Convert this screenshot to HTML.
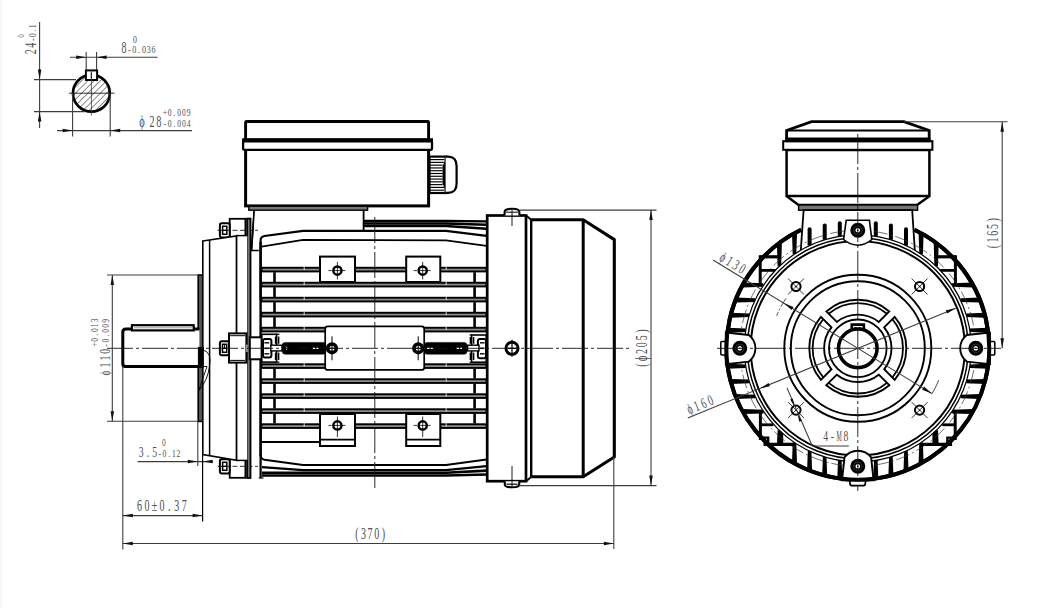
<!DOCTYPE html>
<html><head><meta charset="utf-8"><title>Motor drawing</title>
<style>html,body{margin:0;padding:0;background:#fff;}svg{display:block}</style></head>
<body><svg width="1061" height="608" viewBox="0 0 1061 608">
<rect width="1061" height="608" fill="#fff"/>
<rect x="0" y="0" width="1.2" height="608" fill="#f5f5f5"/><rect x="2.4" y="0" width="0.8" height="608" fill="#fbfbfb"/>
<defs><pattern id="hatch" width="4.4" height="4.4" patternUnits="userSpaceOnUse" patternTransform="rotate(45)"><line x1="0" y1="0" x2="0" y2="4.4" stroke="#000" stroke-width="0.9"/></pattern></defs>
<circle cx="91.40" cy="93.20" r="18.40" fill="url(#hatch)" stroke="#000" stroke-width="2.7" />
<rect x="85.90" y="70.40" width="11.20" height="9.60" rx="0" fill="#fff" stroke="#000" stroke-width="2.0" />
<line x1="91.40" y1="72.50" x2="91.40" y2="78.50" stroke="#000" stroke-width="1.2" />
<line x1="91.40" y1="70.00" x2="91.40" y2="115.50" stroke="#3c3c3c" stroke-width="0.8" />
<line x1="69.00" y1="93.20" x2="114.50" y2="93.20" stroke="#000" stroke-width="0.8" />
<line x1="39.60" y1="22.00" x2="39.60" y2="128.00" stroke="#3c3c3c" stroke-width="1.1" />
<line x1="34.00" y1="79.60" x2="76.00" y2="79.60" stroke="#3c3c3c" stroke-width="1.1" />
<line x1="34.00" y1="111.60" x2="85.00" y2="111.60" stroke="#3c3c3c" stroke-width="1.1" />
<polygon points="39.60,79.60 37.85,69.60 41.35,69.60" fill="#111"/>
<polygon points="39.60,111.60 41.35,121.60 37.85,121.60" fill="#111"/>
<g transform="translate(36.20,55.20) rotate(-90.00)" font-family="Liberation Serif" font-size="15.66" fill="#4d4f55" text-anchor="middle"><text transform="translate(3.35,0) scale(0.64,1)">2</text><text transform="translate(10.05,0) scale(0.64,1)">4</text></g>
<g transform="translate(36.20,41.80) rotate(-90.00)" font-family="Liberation Serif" font-size="10.4" fill="#4d4f55" text-anchor="middle"><text transform="translate(2.20,0) scale(0.76,1)">-</text><text transform="translate(6.60,0) scale(0.76,1)">0</text><text transform="translate(11.00,0) scale(0.76,1)">.</text><text transform="translate(15.40,0) scale(0.76,1)">1</text></g>
<g transform="translate(23.80,38.00) rotate(-90.00)" font-family="Liberation Serif" font-size="8.5" fill="#4d4f55" text-anchor="middle"><text transform="translate(2.20,0) scale(0.76,1)">0</text></g>
<line x1="70.00" y1="57.30" x2="157.50" y2="57.30" stroke="#3c3c3c" stroke-width="1.1" />
<line x1="86.20" y1="52.00" x2="86.20" y2="70.00" stroke="#3c3c3c" stroke-width="1.1" />
<line x1="96.60" y1="52.00" x2="96.60" y2="70.00" stroke="#3c3c3c" stroke-width="1.1" />
<polygon points="86.20,57.30 76.20,59.05 76.20,55.55" fill="#111"/>
<polygon points="96.60,57.30 106.60,55.55 106.60,59.05" fill="#111"/>
<g transform="translate(120.80,52.60)" font-family="Liberation Serif" font-size="15.66" fill="#4d4f55" text-anchor="middle"><text transform="translate(3.30,0) scale(0.64,1)">8</text></g>
<g transform="translate(127.00,53.00)" font-family="Liberation Serif" font-size="10.6" fill="#4d4f55" text-anchor="middle"><text transform="translate(2.42,0) scale(0.76,1)">-</text><text transform="translate(7.25,0) scale(0.76,1)">0</text><text transform="translate(12.08,0) scale(0.76,1)">.</text><text transform="translate(16.92,0) scale(0.76,1)">0</text><text transform="translate(21.75,0) scale(0.76,1)">3</text><text transform="translate(26.58,0) scale(0.76,1)">6</text></g>
<g transform="translate(132.40,42.60)" font-family="Liberation Serif" font-size="10.4" fill="#4d4f55" text-anchor="middle"><text transform="translate(2.50,0) scale(0.76,1)">0</text></g>
<line x1="57.00" y1="130.60" x2="192.00" y2="130.60" stroke="#3c3c3c" stroke-width="1.1" />
<line x1="72.60" y1="93.00" x2="72.60" y2="136.50" stroke="#3c3c3c" stroke-width="1.1" />
<line x1="110.20" y1="93.00" x2="110.20" y2="136.50" stroke="#3c3c3c" stroke-width="1.1" />
<polygon points="72.60,130.60 62.60,132.35 62.60,128.85" fill="#111"/>
<polygon points="110.20,130.60 120.20,128.85 120.20,132.35" fill="#111"/>
<g transform="translate(138.40,126.60)" font-family="Liberation Serif" font-size="16.2" fill="#4d4f55" text-anchor="middle"><text transform="translate(3.50,0) scale(0.64,1)">ϕ</text></g>
<g transform="translate(148.80,126.60)" font-family="Liberation Serif" font-size="15.98" fill="#4d4f55" text-anchor="middle"><text transform="translate(3.35,0) scale(0.64,1)">2</text><text transform="translate(10.05,0) scale(0.64,1)">8</text></g>
<g transform="translate(162.60,116.20)" font-family="Liberation Serif" font-size="10" fill="#4d4f55" text-anchor="middle"><text transform="translate(2.37,0) scale(0.76,1)">+</text><text transform="translate(7.10,0) scale(0.76,1)">0</text><text transform="translate(11.83,0) scale(0.76,1)">.</text><text transform="translate(16.57,0) scale(0.76,1)">0</text><text transform="translate(21.30,0) scale(0.76,1)">0</text><text transform="translate(26.03,0) scale(0.76,1)">9</text></g>
<g transform="translate(162.60,127.00)" font-family="Liberation Serif" font-size="10" fill="#4d4f55" text-anchor="middle"><text transform="translate(2.37,0) scale(0.76,1)">-</text><text transform="translate(7.10,0) scale(0.76,1)">0</text><text transform="translate(11.83,0) scale(0.76,1)">.</text><text transform="translate(16.57,0) scale(0.76,1)">0</text><text transform="translate(21.30,0) scale(0.76,1)">0</text><text transform="translate(26.03,0) scale(0.76,1)">4</text></g>
<path d="M254.20,210.00 L251.50,250.50 L258.80,250.50" fill="none" stroke="#000" stroke-width="1.6" />
<path d="M254.20,210.00 L363.60,210.00 L363.60,231.00 L254.00,231.00" fill="#fff" stroke="#fff" stroke-width="0.1" />
<line x1="363.60" y1="210.00" x2="363.60" y2="231.00" stroke="#000" stroke-width="1.8" />
<line x1="254.20" y1="210.00" x2="251.50" y2="250.50" stroke="#000" stroke-width="1.6" />
<rect x="245.60" y="121.50" width="183.00" height="18.50" rx="1" fill="#fff" stroke="#000" stroke-width="2.9" />
<rect x="245.60" y="149.50" width="183.00" height="56.40" rx="0" fill="#fff" stroke="#000" stroke-width="3.0" />
<rect x="243.10" y="140.50" width="188.90" height="9.30" rx="1" fill="#fff" stroke="#000" stroke-width="2.3" />
<line x1="242.20" y1="140.30" x2="433.00" y2="140.30" stroke="#000" stroke-width="4.2" />
<rect x="248.80" y="206.20" width="118.80" height="4.00" rx="0" fill="#777" stroke="#000" stroke-width="1.4" />
<rect x="429.50" y="156.60" width="16.10" height="36.40" rx="0" fill="#fff" stroke="#000" stroke-width="2.2" />
<line x1="430.00" y1="159.60" x2="444.20" y2="159.60" stroke="#000" stroke-width="1.15" />
<line x1="430.00" y1="162.38" x2="444.20" y2="162.38" stroke="#000" stroke-width="1.15" />
<line x1="430.00" y1="165.16" x2="442.60" y2="165.16" stroke="#000" stroke-width="1.15" />
<line x1="430.00" y1="167.94" x2="442.60" y2="167.94" stroke="#000" stroke-width="1.15" />
<line x1="430.00" y1="170.72" x2="442.60" y2="170.72" stroke="#000" stroke-width="1.15" />
<line x1="430.00" y1="173.50" x2="442.60" y2="173.50" stroke="#000" stroke-width="1.15" />
<line x1="430.00" y1="176.28" x2="442.60" y2="176.28" stroke="#000" stroke-width="1.15" />
<line x1="430.00" y1="179.06" x2="442.60" y2="179.06" stroke="#000" stroke-width="1.15" />
<line x1="430.00" y1="181.84" x2="442.60" y2="181.84" stroke="#000" stroke-width="1.15" />
<line x1="430.00" y1="184.62" x2="442.60" y2="184.62" stroke="#000" stroke-width="1.15" />
<line x1="430.00" y1="187.40" x2="444.20" y2="187.40" stroke="#000" stroke-width="1.15" />
<line x1="430.00" y1="190.18" x2="444.20" y2="190.18" stroke="#000" stroke-width="1.15" />
<path d="M445.60,160.00 L442.60,166.00 L442.60,184.00 L445.60,190.00 Z" fill="#000" stroke="#000" stroke-width="0.1" />
<path d="M445.6,156.6 H448 Q456.6,156.6 456.6,166 V183.4 Q456.6,192.8 448,192.8 H445.6" fill="#fff" stroke="#000" stroke-width="2.2" />
<path d="M363.60,221.00 L446.00,221.00 L486.50,221.40" fill="none" stroke="#000" stroke-width="2.4" />
<path d="M363.60,223.50 L446.00,223.50 L486.50,224.80" fill="none" stroke="#000" stroke-width="2.4" />
<path d="M363.60,226.00 L446.00,226.00 L486.50,228.80" fill="none" stroke="#000" stroke-width="2.4" />
<path d="M260.6,300 V240.5 Q260.6,236.6 264.4,236 L303,230.9 H446 L486.5,235.8" fill="none" stroke="#000" stroke-width="2.2" />
<path d="M261.60,246.60 L303.00,239.90 L446.00,240.40 L486.50,245.80" fill="none" stroke="#000" stroke-width="1.8" />
<path d="M260.6,400 V455 Q260.8,459 264.5,459.8 L303,464.9 H446 L486.5,459.4" fill="none" stroke="#000" stroke-width="2.0" />
<line x1="261.00" y1="442.00" x2="320.00" y2="442.00" stroke="#000" stroke-width="2.0" />
<path d="M262.00,467.20 L303.00,470.20 L446.00,470.20 L486.50,466.20" fill="none" stroke="#000" stroke-width="2.3" />
<path d="M262.00,472.80 L446.00,472.80 L486.50,470.60" fill="none" stroke="#000" stroke-width="2.6" />
<path d="M262.00,475.40 L446.00,475.40 L486.50,474.60" fill="none" stroke="#000" stroke-width="2.5" />
<line x1="260.60" y1="455.00" x2="260.60" y2="478.00" stroke="#000" stroke-width="2.2" />
<line x1="258.80" y1="478.00" x2="263.50" y2="478.00" stroke="#000" stroke-width="1.2" />
<rect x="261.5" y="327.75" width="225.0" height="3.7" fill="#8c8c8c" stroke="#000" stroke-width="1.9"/>
<line x1="304.20" y1="326.60" x2="304.20" y2="330.10" stroke="#fff" stroke-width="0.8" />
<line x1="446.20" y1="326.60" x2="446.20" y2="330.10" stroke="#fff" stroke-width="0.8" />
<rect x="261.5" y="312.75" width="225.0" height="3.7" fill="#8c8c8c" stroke="#000" stroke-width="1.9"/>
<line x1="304.20" y1="311.60" x2="304.20" y2="315.10" stroke="#fff" stroke-width="0.8" />
<line x1="446.20" y1="311.60" x2="446.20" y2="315.10" stroke="#fff" stroke-width="0.8" />
<rect x="261.5" y="297.75" width="225.0" height="3.7" fill="#8c8c8c" stroke="#000" stroke-width="1.9"/>
<line x1="304.20" y1="296.60" x2="304.20" y2="300.10" stroke="#fff" stroke-width="0.8" />
<line x1="446.20" y1="296.60" x2="446.20" y2="300.10" stroke="#fff" stroke-width="0.8" />
<rect x="261.5" y="282.75" width="225.0" height="3.7" fill="#8c8c8c" stroke="#000" stroke-width="1.9"/>
<line x1="304.20" y1="281.60" x2="304.20" y2="285.10" stroke="#fff" stroke-width="0.8" />
<line x1="446.20" y1="281.60" x2="446.20" y2="285.10" stroke="#fff" stroke-width="0.8" />
<rect x="261.5" y="267.75" width="225.0" height="3.7" fill="#8c8c8c" stroke="#000" stroke-width="1.9"/>
<line x1="304.20" y1="266.60" x2="304.20" y2="270.10" stroke="#fff" stroke-width="0.8" />
<line x1="446.20" y1="266.60" x2="446.20" y2="270.10" stroke="#fff" stroke-width="0.8" />
<rect x="261.5" y="364.25" width="225.0" height="3.7" fill="#8c8c8c" stroke="#000" stroke-width="1.9"/>
<line x1="304.20" y1="363.10" x2="304.20" y2="366.60" stroke="#fff" stroke-width="0.8" />
<line x1="446.20" y1="363.10" x2="446.20" y2="366.60" stroke="#fff" stroke-width="0.8" />
<rect x="261.5" y="379.25" width="225.0" height="3.7" fill="#8c8c8c" stroke="#000" stroke-width="1.9"/>
<line x1="304.20" y1="378.10" x2="304.20" y2="381.60" stroke="#fff" stroke-width="0.8" />
<line x1="446.20" y1="378.10" x2="446.20" y2="381.60" stroke="#fff" stroke-width="0.8" />
<rect x="261.5" y="394.25" width="225.0" height="3.7" fill="#8c8c8c" stroke="#000" stroke-width="1.9"/>
<line x1="304.20" y1="393.10" x2="304.20" y2="396.60" stroke="#fff" stroke-width="0.8" />
<line x1="446.20" y1="393.10" x2="446.20" y2="396.60" stroke="#fff" stroke-width="0.8" />
<rect x="261.5" y="409.25" width="225.0" height="3.7" fill="#8c8c8c" stroke="#000" stroke-width="1.9"/>
<line x1="304.20" y1="408.10" x2="304.20" y2="411.60" stroke="#fff" stroke-width="0.8" />
<line x1="446.20" y1="408.10" x2="446.20" y2="411.60" stroke="#fff" stroke-width="0.8" />
<rect x="261.5" y="424.25" width="225.0" height="3.7" fill="#8c8c8c" stroke="#000" stroke-width="1.9"/>
<line x1="304.20" y1="423.10" x2="304.20" y2="426.60" stroke="#fff" stroke-width="0.8" />
<line x1="446.20" y1="423.10" x2="446.20" y2="426.60" stroke="#fff" stroke-width="0.8" />
<line x1="260.60" y1="242.00" x2="260.60" y2="456.00" stroke="#000" stroke-width="2.4" />
<line x1="274.50" y1="317.20" x2="274.50" y2="327.00" stroke="#000" stroke-width="2.6" />
<line x1="274.50" y1="302.20" x2="274.50" y2="312.00" stroke="#000" stroke-width="2.6" />
<line x1="274.50" y1="287.20" x2="274.50" y2="297.00" stroke="#000" stroke-width="2.6" />
<line x1="274.50" y1="272.20" x2="274.50" y2="282.00" stroke="#000" stroke-width="2.6" />
<line x1="274.50" y1="368.70" x2="274.50" y2="378.50" stroke="#000" stroke-width="2.6" />
<line x1="274.50" y1="383.70" x2="274.50" y2="393.50" stroke="#000" stroke-width="2.6" />
<line x1="274.50" y1="398.70" x2="274.50" y2="408.50" stroke="#000" stroke-width="2.6" />
<line x1="274.50" y1="413.70" x2="274.50" y2="423.50" stroke="#000" stroke-width="2.6" />
<line x1="474.60" y1="317.20" x2="474.60" y2="327.00" stroke="#000" stroke-width="2.6" />
<line x1="474.60" y1="302.20" x2="474.60" y2="312.00" stroke="#000" stroke-width="2.6" />
<line x1="474.60" y1="287.20" x2="474.60" y2="297.00" stroke="#000" stroke-width="2.6" />
<line x1="474.60" y1="272.20" x2="474.60" y2="282.00" stroke="#000" stroke-width="2.6" />
<line x1="474.60" y1="368.70" x2="474.60" y2="378.50" stroke="#000" stroke-width="2.6" />
<line x1="474.60" y1="383.70" x2="474.60" y2="393.50" stroke="#000" stroke-width="2.6" />
<line x1="474.60" y1="398.70" x2="474.60" y2="408.50" stroke="#000" stroke-width="2.6" />
<line x1="474.60" y1="413.70" x2="474.60" y2="423.50" stroke="#000" stroke-width="2.6" />
<rect x="325.20" y="326.40" width="99.00" height="43.50" rx="2.5" fill="#fff" stroke="#000" stroke-width="1.7" />
<circle cx="332.00" cy="348.30" r="4.30" fill="#fff" stroke="#000" stroke-width="3.6" />
<line x1="332.00" y1="336.30" x2="332.00" y2="360.30" stroke="#000" stroke-width="1.0" />
<line x1="327.00" y1="348.30" x2="337.00" y2="348.30" stroke="#000" stroke-width="1.2" />
<circle cx="418.20" cy="348.30" r="4.30" fill="#fff" stroke="#000" stroke-width="3.6" />
<line x1="418.20" y1="336.30" x2="418.20" y2="360.30" stroke="#000" stroke-width="1.0" />
<line x1="413.20" y1="348.30" x2="423.20" y2="348.30" stroke="#000" stroke-width="1.2" />
<rect x="320.00" y="256.60" width="35.00" height="25.40" rx="0" fill="#fff" stroke="#000" stroke-width="2.0" />
<circle cx="337.40" cy="270.60" r="4.10" fill="none" stroke="#000" stroke-width="2.4" />
<line x1="328.40" y1="270.60" x2="346.40" y2="270.60" stroke="#000" stroke-width="0.8" stroke-dasharray="3.2 2.2 11.6 2.2 3.2"/>
<line x1="337.40" y1="262.00" x2="337.40" y2="279.50" stroke="#000" stroke-width="0.8" />
<rect x="320.00" y="414.00" width="35.00" height="32.00" rx="0" fill="#fff" stroke="#000" stroke-width="2.0" />
<line x1="320.00" y1="439.60" x2="355.00" y2="439.60" stroke="#000" stroke-width="1.6" />
<circle cx="337.40" cy="425.40" r="4.10" fill="none" stroke="#000" stroke-width="2.4" />
<line x1="328.40" y1="425.40" x2="346.40" y2="425.40" stroke="#000" stroke-width="0.8" stroke-dasharray="3.2 2.2 11.6 2.2 3.2"/>
<line x1="337.40" y1="416.50" x2="337.40" y2="437.00" stroke="#000" stroke-width="0.8" />
<rect x="406.20" y="256.60" width="34.10" height="25.40" rx="0" fill="#fff" stroke="#000" stroke-width="2.0" />
<circle cx="422.70" cy="270.60" r="4.10" fill="none" stroke="#000" stroke-width="2.4" />
<line x1="413.70" y1="270.60" x2="431.70" y2="270.60" stroke="#000" stroke-width="0.8" stroke-dasharray="3.2 2.2 11.6 2.2 3.2"/>
<line x1="422.70" y1="262.00" x2="422.70" y2="279.50" stroke="#000" stroke-width="0.8" />
<rect x="406.20" y="414.00" width="34.10" height="32.00" rx="0" fill="#fff" stroke="#000" stroke-width="2.0" />
<line x1="406.20" y1="439.60" x2="440.30" y2="439.60" stroke="#000" stroke-width="1.6" />
<circle cx="422.70" cy="425.40" r="4.10" fill="none" stroke="#000" stroke-width="2.4" />
<line x1="413.70" y1="425.40" x2="431.70" y2="425.40" stroke="#000" stroke-width="0.8" stroke-dasharray="3.2 2.2 11.6 2.2 3.2"/>
<line x1="422.70" y1="416.50" x2="422.70" y2="437.00" stroke="#000" stroke-width="0.8" />
<rect x="487.20" y="215.50" width="38.80" height="265.70" rx="0" fill="#fff" stroke="#000" stroke-width="2.7" />
<path d="M526.00,215.50 L531.20,219.80" fill="none" stroke="#000" stroke-width="2.0" />
<path d="M526.00,481.20 L531.20,476.90" fill="none" stroke="#000" stroke-width="2.0" />
<line x1="531.20" y1="219.80" x2="531.20" y2="476.90" stroke="#000" stroke-width="2.4" />
<path d="M531.20,219.80 L583.20,219.80 L614.30,239.60 L614.30,457.00 L583.20,476.80 L531.20,476.80" fill="none" stroke="#000" stroke-width="3.1" stroke-linejoin="round"/>
<line x1="583.20" y1="219.80" x2="583.20" y2="476.80" stroke="#000" stroke-width="3.0" />
<circle cx="512.00" cy="348.30" r="6.10" fill="#fff" stroke="#000" stroke-width="2.9" />
<line x1="512.00" y1="339.80" x2="512.00" y2="356.80" stroke="#000" stroke-width="1.2" />
<line x1="505.00" y1="348.30" x2="519.00" y2="348.30" stroke="#000" stroke-width="1.3" />
<path d="M504.6,215.4 V212 Q504.6,208.8 512,208.8 Q519.4,208.8 519.4,212 V215.4" fill="#fff" stroke="#000" stroke-width="2.1" />
<line x1="506.00" y1="212.20" x2="518.00" y2="212.20" stroke="#000" stroke-width="1.0" />
<line x1="512.00" y1="210.00" x2="512.00" y2="226.00" stroke="#000" stroke-width="0.9" />
<path d="M504.8,481.2 V484.4 Q504.8,487.2 512,487.2 Q519.2,487.2 519.2,484.4 V481.2" fill="#fff" stroke="#000" stroke-width="2.1" />
<line x1="506.50" y1="484.20" x2="517.50" y2="484.20" stroke="#000" stroke-width="1.2" />
<line x1="512.00" y1="466.00" x2="512.00" y2="486.00" stroke="#000" stroke-width="0.9" />
<rect x="229.70" y="218.80" width="15.70" height="23.00" rx="0" fill="#fff" stroke="#000" stroke-width="1.8" />
<rect x="219.90" y="223.20" width="9.80" height="14.20" rx="1.8" fill="#fff" stroke="#000" stroke-width="2.0" />
<rect x="222.60" y="226.30" width="4.20" height="8.00" rx="0" fill="#fff" stroke="#000" stroke-width="1.5" />
<line x1="222.60" y1="230.30" x2="226.80" y2="230.30" stroke="#000" stroke-width="1.4" />
<line x1="217.50" y1="230.30" x2="258.00" y2="230.30" stroke="#000" stroke-width="0.8" stroke-dasharray="5 2.5"/>
<rect x="229.70" y="454.80" width="15.70" height="23.00" rx="0" fill="#fff" stroke="#000" stroke-width="1.8" />
<rect x="219.90" y="459.20" width="9.80" height="14.20" rx="1.8" fill="#fff" stroke="#000" stroke-width="2.0" />
<rect x="222.60" y="462.30" width="4.20" height="8.00" rx="0" fill="#fff" stroke="#000" stroke-width="1.5" />
<line x1="222.60" y1="466.30" x2="226.80" y2="466.30" stroke="#000" stroke-width="1.4" />
<line x1="217.50" y1="466.30" x2="258.00" y2="466.30" stroke="#000" stroke-width="0.8" stroke-dasharray="5 2.5"/>
<rect x="198.20" y="275.00" width="4.60" height="146.40" rx="0" fill="#555" stroke="#000" stroke-width="1.6" />
<path d="M202.80,241.00 L236.60,236.00 L236.60,460.40 L202.80,454.60 Z" fill="#fff" stroke="#000" stroke-width="1.6" />
<line x1="209.60" y1="240.00" x2="209.60" y2="455.60" stroke="#000" stroke-width="1.5" />
<rect x="247.10" y="218.60" width="3.40" height="259.40" rx="0" fill="#777" stroke="#000" stroke-width="1.8" />
<rect x="236.60" y="235.60" width="10.60" height="224.80" rx="0" fill="#fff" stroke="#fff" stroke-width="0.1" />
<line x1="236.60" y1="235.60" x2="236.60" y2="460.40" stroke="#000" stroke-width="1.6" />
<line x1="235.80" y1="235.60" x2="247.20" y2="235.60" stroke="#000" stroke-width="1.5" />
<line x1="235.80" y1="460.40" x2="247.20" y2="460.40" stroke="#000" stroke-width="1.5" />
<path d="M199.4,328.9 H126 Q122.8,328.9 122.8,332 V363.4 Q122.8,366.6 126,366.6 H199.4" fill="#fff" stroke="#000" stroke-width="3.0" />
<rect x="131.90" y="325.20" width="61.80" height="5.20" rx="0" fill="#fff" stroke="#000" stroke-width="2.2" />
<line x1="134.00" y1="327.80" x2="192.00" y2="327.80" stroke="#999" stroke-width="1.0" />
<rect x="198.40" y="347.40" width="4.80" height="20.00" rx="0" fill="#000" stroke="#000" stroke-width="1.0" />
<path d="M203,350 Q212,352 209.5,366 Q208,380 198.5,391" fill="none" stroke="#000" stroke-width="0.9" />
<path d="M203,366.5 L207,366.5 L198.5,391" fill="none" stroke="#000" stroke-width="0.9" />
<rect x="229.00" y="333.40" width="17.40" height="29.20" rx="0" fill="#fff" stroke="#000" stroke-width="2.0" />
<line x1="230.20" y1="335.70" x2="245.40" y2="335.70" stroke="#000" stroke-width="1.0" />
<line x1="230.20" y1="360.40" x2="245.40" y2="360.40" stroke="#000" stroke-width="1.0" />
<rect x="249.80" y="337.30" width="11.80" height="22.00" rx="0" fill="#fff" stroke="#000" stroke-width="2.0" />
<rect x="219.90" y="341.20" width="9.10" height="14.10" rx="2" fill="#fff" stroke="#000" stroke-width="2.0" />
<rect x="222.50" y="344.30" width="4.20" height="8.00" rx="0" fill="#fff" stroke="#000" stroke-width="1.5" />
<line x1="222.50" y1="348.30" x2="226.70" y2="348.30" stroke="#000" stroke-width="1.4" />
<line x1="224.60" y1="344.30" x2="224.60" y2="348.30" stroke="#000" stroke-width="1.0" />
<line x1="246.90" y1="344.60" x2="246.90" y2="352.00" stroke="#fff" stroke-width="1.0" />
<rect x="261.80" y="334.30" width="14.80" height="27.80" rx="0" fill="#fff" stroke="#000" stroke-width="1.6" />
<line x1="275.60" y1="336.50" x2="275.60" y2="343.80" stroke="#000" stroke-width="1.5" />
<line x1="275.60" y1="352.60" x2="275.60" y2="360.00" stroke="#000" stroke-width="1.5" />
<line x1="278.60" y1="336.50" x2="278.60" y2="343.80" stroke="#000" stroke-width="1.5" />
<line x1="278.60" y1="352.60" x2="278.60" y2="360.00" stroke="#000" stroke-width="1.5" />
<line x1="276.00" y1="334.30" x2="279.40" y2="334.30" stroke="#000" stroke-width="1.2" />
<line x1="276.00" y1="362.10" x2="279.40" y2="362.10" stroke="#000" stroke-width="1.2" />
<rect x="263.00" y="339.00" width="8.40" height="18.60" rx="2" fill="#fff" stroke="#000" stroke-width="2.0" />
<line x1="264.40" y1="342.80" x2="269.20" y2="342.80" stroke="#222" stroke-width="1.6" />
<line x1="264.40" y1="348.30" x2="269.20" y2="348.30" stroke="#222" stroke-width="1.6" />
<line x1="264.40" y1="353.80" x2="269.20" y2="353.80" stroke="#222" stroke-width="1.6" />
<rect x="270.80" y="345.20" width="11.20" height="5.70" rx="0" fill="#fff" stroke="#000" stroke-width="1.4" />
<rect x="282.20" y="342.40" width="43.80" height="11.80" rx="3" fill="#000" stroke="#000" stroke-width="0.5" />
<path d="M286.2,346.6 Q288.4,348.3 286.2,350" fill="none" stroke="#fff" stroke-width="0.8" />
<rect x="471.60" y="335.00" width="14.60" height="27.20" rx="0" fill="#fff" stroke="#000" stroke-width="1.6" />
<line x1="470.40" y1="337.00" x2="470.40" y2="343.80" stroke="#000" stroke-width="1.5" />
<line x1="470.40" y1="352.60" x2="470.40" y2="360.00" stroke="#000" stroke-width="1.5" />
<line x1="473.60" y1="337.00" x2="473.60" y2="343.80" stroke="#000" stroke-width="1.5" />
<line x1="473.60" y1="352.60" x2="473.60" y2="360.00" stroke="#000" stroke-width="1.5" />
<line x1="469.60" y1="335.00" x2="472.00" y2="335.00" stroke="#000" stroke-width="1.2" />
<line x1="469.60" y1="362.20" x2="472.00" y2="362.20" stroke="#000" stroke-width="1.2" />
<rect x="477.90" y="339.00" width="8.10" height="19.20" rx="2" fill="#fff" stroke="#000" stroke-width="2.0" />
<line x1="480.00" y1="342.80" x2="484.60" y2="342.80" stroke="#222" stroke-width="1.6" />
<line x1="480.00" y1="348.30" x2="484.60" y2="348.30" stroke="#222" stroke-width="1.6" />
<line x1="480.00" y1="353.80" x2="484.60" y2="353.80" stroke="#222" stroke-width="1.6" />
<rect x="467.60" y="345.20" width="11.40" height="5.70" rx="0" fill="#fff" stroke="#000" stroke-width="1.4" />
<rect x="424.20" y="342.40" width="42.80" height="11.80" rx="3" fill="#000" stroke="#000" stroke-width="0.5" />
<line x1="107.00" y1="348.30" x2="632.00" y2="348.30" stroke="#111" stroke-width="0.9" stroke-dasharray="26 3 3 3"/>
<line x1="374.80" y1="217.00" x2="374.80" y2="488.00" stroke="#111" stroke-width="0.9" stroke-dasharray="26 3 3 3"/>
<line x1="312.80" y1="348.30" x2="318.40" y2="348.30" stroke="#fff" stroke-width="1.3" stroke-dasharray="2.4 1.2"/>
<line x1="427.20" y1="348.30" x2="432.80" y2="348.30" stroke="#fff" stroke-width="1.3" stroke-dasharray="2.4 1.2"/>
<line x1="456.60" y1="348.30" x2="462.00" y2="348.30" stroke="#fff" stroke-width="1.3" stroke-dasharray="2.4 1.2"/>
<line x1="288.00" y1="348.30" x2="300.00" y2="348.30" stroke="#000" stroke-width="1.2" />
<line x1="112.30" y1="275.00" x2="112.30" y2="421.30" stroke="#3c3c3c" stroke-width="1.1" />
<line x1="107.00" y1="275.00" x2="197.80" y2="275.00" stroke="#3c3c3c" stroke-width="1.1" />
<line x1="107.00" y1="421.30" x2="197.80" y2="421.30" stroke="#3c3c3c" stroke-width="1.1" />
<polygon points="112.30,275.00 114.05,285.00 110.55,285.00" fill="#111"/>
<polygon points="112.30,421.30 110.55,411.30 114.05,411.30" fill="#111"/>
<g transform="translate(109.60,376.60) rotate(-90.00)" font-family="Liberation Serif" font-size="14.58" fill="#4d4f55" text-anchor="middle"><text transform="translate(3.50,0) scale(0.64,1)">ϕ</text></g>
<g transform="translate(109.60,368.40) rotate(-90.00)" font-family="Liberation Serif" font-size="15.12" fill="#4d4f55" text-anchor="middle"><text transform="translate(3.40,0) scale(0.64,1)">1</text><text transform="translate(10.20,0) scale(0.64,1)">1</text><text transform="translate(17.00,0) scale(0.64,1)">0</text></g>
<g transform="translate(109.40,348.00) rotate(-90.00)" font-family="Liberation Serif" font-size="10" fill="#4d4f55" text-anchor="middle"><text transform="translate(2.47,0) scale(0.76,1)">-</text><text transform="translate(7.40,0) scale(0.76,1)">0</text><text transform="translate(12.33,0) scale(0.76,1)">.</text><text transform="translate(17.27,0) scale(0.76,1)">0</text><text transform="translate(22.20,0) scale(0.76,1)">0</text><text transform="translate(27.13,0) scale(0.76,1)">9</text></g>
<g transform="translate(98.00,347.00) rotate(-90.00)" font-family="Liberation Serif" font-size="10" fill="#4d4f55" text-anchor="middle"><text transform="translate(2.42,0) scale(0.76,1)">+</text><text transform="translate(7.25,0) scale(0.76,1)">0</text><text transform="translate(12.08,0) scale(0.76,1)">.</text><text transform="translate(16.92,0) scale(0.76,1)">0</text><text transform="translate(21.75,0) scale(0.76,1)">1</text><text transform="translate(26.58,0) scale(0.76,1)">3</text></g>
<line x1="137.60" y1="461.60" x2="213.00" y2="461.60" stroke="#3c3c3c" stroke-width="1.1" />
<line x1="197.80" y1="421.30" x2="197.80" y2="466.00" stroke="#3c3c3c" stroke-width="1.1" />
<polygon points="197.80,461.60 187.80,463.35 187.80,459.85" fill="#111"/>
<polygon points="202.60,461.60 212.60,459.85 212.60,463.35" fill="#111"/>
<g transform="translate(137.80,457.20)" font-family="Liberation Serif" font-size="15.12" fill="#4d4f55" text-anchor="middle"><text transform="translate(3.37,0) scale(0.64,1)">3</text><text transform="translate(10.10,0) scale(0.64,1)">.</text><text transform="translate(16.83,0) scale(0.64,1)">5</text></g>
<g transform="translate(157.40,457.40)" font-family="Liberation Serif" font-size="10" fill="#4d4f55" text-anchor="middle"><text transform="translate(2.34,0) scale(0.76,1)">-</text><text transform="translate(7.02,0) scale(0.76,1)">0</text><text transform="translate(11.70,0) scale(0.76,1)">.</text><text transform="translate(16.38,0) scale(0.76,1)">1</text><text transform="translate(21.06,0) scale(0.76,1)">2</text></g>
<g transform="translate(161.40,446.40)" font-family="Liberation Serif" font-size="9.8" fill="#4d4f55" text-anchor="middle"><text transform="translate(2.50,0) scale(0.76,1)">0</text></g>
<line x1="122.80" y1="366.60" x2="122.80" y2="549.50" stroke="#3c3c3c" stroke-width="1.1" />
<line x1="202.60" y1="455.00" x2="202.60" y2="521.50" stroke="#000" stroke-width="1.2" />
<line x1="122.80" y1="515.60" x2="202.60" y2="515.60" stroke="#3c3c3c" stroke-width="1.1" />
<polygon points="122.80,515.60 132.80,513.85 132.80,517.35" fill="#111"/>
<polygon points="202.60,515.60 192.60,517.35 192.60,513.85" fill="#111"/>
<g transform="translate(135.80,511.40)" font-family="Liberation Serif" font-size="15.66" fill="#4d4f55" text-anchor="middle"><text transform="translate(3.73,0) scale(0.64,1)">6</text><text transform="translate(11.19,0) scale(0.64,1)">0</text><text transform="translate(18.64,0) scale(0.64,1)">±</text><text transform="translate(26.10,0) scale(0.64,1)">0</text><text transform="translate(33.56,0) scale(0.64,1)">.</text><text transform="translate(41.01,0) scale(0.64,1)">3</text><text transform="translate(48.47,0) scale(0.64,1)">7</text></g>
<line x1="122.80" y1="543.50" x2="613.80" y2="543.50" stroke="#3c3c3c" stroke-width="1.1" />
<line x1="613.80" y1="457.00" x2="613.80" y2="549.00" stroke="#3c3c3c" stroke-width="1.1" />
<polygon points="122.80,543.50 132.80,541.75 132.80,545.25" fill="#111"/>
<polygon points="613.80,543.50 603.80,545.25 603.80,541.75" fill="#111"/>
<g transform="translate(353.60,538.80)" font-family="Liberation Serif" font-size="15.66" fill="#4d4f55" text-anchor="middle"><text transform="translate(3.30,0) scale(0.64,1)">(</text><text transform="translate(9.90,0) scale(0.64,1)">3</text><text transform="translate(16.50,0) scale(0.64,1)">7</text><text transform="translate(23.10,0) scale(0.64,1)">0</text><text transform="translate(29.70,0) scale(0.64,1)">)</text></g>
<line x1="651.00" y1="210.10" x2="651.00" y2="485.60" stroke="#3c3c3c" stroke-width="1.1" />
<line x1="519.60" y1="210.10" x2="656.50" y2="210.10" stroke="#3c3c3c" stroke-width="1.1" />
<line x1="519.20" y1="485.60" x2="656.50" y2="485.60" stroke="#3c3c3c" stroke-width="1.1" />
<polygon points="651.00,210.10 652.75,220.10 649.25,220.10" fill="#111"/>
<polygon points="651.00,485.60 649.25,475.60 652.75,475.60" fill="#111"/>
<g transform="translate(647.00,368.60) rotate(-90.00)" font-family="Liberation Serif" font-size="15.66" fill="#4d4f55" text-anchor="middle"><text transform="translate(3.42,0) scale(0.64,1)">(</text><text transform="translate(10.25,0) scale(0.64,1)">ϕ</text><text transform="translate(17.08,0) scale(0.64,1)">2</text><text transform="translate(23.92,0) scale(0.64,1)">0</text><text transform="translate(30.75,0) scale(0.64,1)">5</text><text transform="translate(37.58,0) scale(0.64,1)">)</text></g>
<path d="M786.60,150.00 L929.40,150.00 L929.40,196.20 L917.00,205.00 L798.60,205.00 L786.60,196.20 Z" fill="#fff" stroke="#000" stroke-width="2.5" />
<line x1="786.60" y1="196.00" x2="929.40" y2="196.00" stroke="#000" stroke-width="2.4" />
<rect x="798.60" y="205.00" width="119.00" height="5.20" rx="0" fill="#777" stroke="#000" stroke-width="1.4" />
<path d="M786.60,140.00 L786.60,130.40 L811.60,121.60 L904.00,121.60 L929.20,130.40 L929.20,140.00 Z" fill="#fff" stroke="#000" stroke-width="2.8" />
<line x1="786.60" y1="130.60" x2="929.20" y2="130.60" stroke="#000" stroke-width="2.0" />
<rect x="783.20" y="141.20" width="149.20" height="8.60" rx="0" fill="#fff" stroke="#000" stroke-width="2.0" />
<line x1="785.40" y1="139.80" x2="930.40" y2="139.80" stroke="#000" stroke-width="4.8" />
<circle cx="857.80" cy="348.30" r="131.40" fill="#fff" stroke="#fff" stroke-width="0.1" />
<path d="M803.60,210.20 L800.80,250.00 L914.80,250.00 L912.20,210.20 Z" fill="#fff" stroke="#000" stroke-width="1.8" />
<path d="M801.20,229.72 A131.4,131.4 0 1 0 914.40,229.72" fill="none" stroke="#000" stroke-width="4.0" />
<polygon points="727.64,327.80 745.74,328.50 745.74,332.10 727.64,332.80" fill="#000"/>
<polygon points="987.96,327.80 969.86,328.50 969.86,332.10 987.96,332.80" fill="#000"/>
<polygon points="727.64,363.80 745.74,364.50 745.74,368.10 727.64,368.80" fill="#000"/>
<polygon points="987.96,363.80 969.86,364.50 969.86,368.10 987.96,368.80" fill="#000"/>
<polygon points="730.64,312.70 749.23,313.40 749.23,317.00 730.64,317.70" fill="#000"/>
<polygon points="984.96,312.70 966.37,313.40 966.37,317.00 984.96,317.70" fill="#000"/>
<polygon points="730.64,378.90 749.23,379.60 749.23,383.20 730.64,383.90" fill="#000"/>
<polygon points="984.96,378.90 966.37,379.60 966.37,383.20 984.96,383.90" fill="#000"/>
<polygon points="735.56,297.60 755.04,298.30 755.04,301.90 735.56,302.60" fill="#000"/>
<polygon points="980.04,297.60 960.56,298.30 960.56,301.90 980.04,302.60" fill="#000"/>
<polygon points="735.56,394.00 755.04,394.70 755.04,398.30 735.56,399.00" fill="#000"/>
<polygon points="980.04,394.00 960.56,394.70 960.56,398.30 980.04,399.00" fill="#000"/>
<polygon points="742.65,282.50 763.59,283.20 763.59,286.80 742.65,287.50" fill="#000"/>
<polygon points="972.95,282.50 952.01,283.20 952.01,286.80 972.95,287.50" fill="#000"/>
<polygon points="742.65,409.10 763.59,409.80 763.59,413.40 742.65,414.10" fill="#000"/>
<polygon points="972.95,409.10 952.01,409.80 952.01,413.40 972.95,414.10" fill="#000"/>
<polygon points="837.30,478.46 838.00,460.36 841.60,460.36 842.30,478.46" fill="#000"/>
<path d="M837.80,236.24 V223.20 A2,2 0 0 1 841.80,223.20 V236.24 Z" fill="#000"/>
<polygon points="873.30,478.46 874.00,460.36 877.60,460.36 878.30,478.46" fill="#000"/>
<path d="M873.80,236.24 V223.20 A2,2 0 0 1 877.80,223.20 V236.24 Z" fill="#000"/>
<polygon points="822.20,475.46 822.90,456.87 826.50,456.87 827.20,475.46" fill="#000"/>
<path d="M822.70,239.73 V225.60 A2,2 0 0 1 826.70,225.60 V239.73 Z" fill="#000"/>
<polygon points="888.40,475.46 889.10,456.87 892.70,456.87 893.40,475.46" fill="#000"/>
<path d="M888.90,239.73 V225.60 A2,2 0 0 1 892.90,225.60 V239.73 Z" fill="#000"/>
<polygon points="807.10,470.54 807.80,451.06 811.40,451.06 812.10,470.54" fill="#000"/>
<path d="M807.60,245.54 V229.20 A2,2 0 0 1 811.60,229.20 V245.54 Z" fill="#000"/>
<polygon points="903.50,470.54 904.20,451.06 907.80,451.06 908.50,470.54" fill="#000"/>
<path d="M904.00,245.54 V229.20 A2,2 0 0 1 908.00,229.20 V245.54 Z" fill="#000"/>
<polygon points="792.00,463.45 792.70,442.51 796.30,442.51 797.00,463.45" fill="#000"/>
<polygon points="792.00,233.15 792.70,254.09 796.30,254.09 797.00,233.15" fill="#000"/>
<polygon points="918.60,463.45 919.30,442.51 922.90,442.51 923.60,463.45" fill="#000"/>
<polygon points="918.60,233.15 919.30,254.09 922.90,254.09 923.60,233.15" fill="#000"/>
<polygon points="776.90,445.40 777.60,430.37 781.20,430.37 781.90,445.40" fill="#000"/>
<polygon points="776.90,242.85 777.60,266.23 781.20,266.23 781.90,242.85" fill="#000"/>
<polygon points="933.70,445.40 934.40,430.37 938.00,430.37 938.70,445.40" fill="#000"/>
<polygon points="933.70,242.85 934.40,266.23 938.00,266.23 938.70,242.85" fill="#000"/>
<line x1="759.20" y1="256.80" x2="780.50" y2="256.80" stroke="#000" stroke-width="3.2" />
<line x1="760.20" y1="255.50" x2="760.20" y2="285.50" stroke="#000" stroke-width="3.0" />
<line x1="761.00" y1="270.40" x2="775.80" y2="270.40" stroke="#000" stroke-width="2.8" />
<line x1="760.40" y1="409.90" x2="760.40" y2="440.00" stroke="#000" stroke-width="3.0" />
<line x1="760.40" y1="424.80" x2="773.40" y2="424.80" stroke="#000" stroke-width="2.8" />
<line x1="781.40" y1="429.60" x2="781.40" y2="445.40" stroke="#000" stroke-width="3.6" />
<line x1="763.50" y1="444.40" x2="795.60" y2="444.40" stroke="#000" stroke-width="3.4" />
<path d="M760.40,437.60 L768.20,437.60 L768.20,444.40" fill="none" stroke="#000" stroke-width="2.4" />
<line x1="956.40" y1="256.80" x2="935.10" y2="256.80" stroke="#000" stroke-width="3.2" />
<line x1="955.40" y1="255.50" x2="955.40" y2="285.50" stroke="#000" stroke-width="3.0" />
<line x1="954.60" y1="270.40" x2="939.80" y2="270.40" stroke="#000" stroke-width="2.8" />
<line x1="955.20" y1="409.90" x2="955.20" y2="440.00" stroke="#000" stroke-width="3.0" />
<line x1="955.20" y1="424.80" x2="942.20" y2="424.80" stroke="#000" stroke-width="2.8" />
<line x1="934.20" y1="429.60" x2="934.20" y2="445.40" stroke="#000" stroke-width="3.6" />
<line x1="952.10" y1="444.40" x2="920.00" y2="444.40" stroke="#000" stroke-width="3.4" />
<path d="M955.20,437.60 L947.40,437.60 L947.40,444.40" fill="none" stroke="#000" stroke-width="2.4" />
<circle cx="857.80" cy="348.30" r="113.50" fill="#fff" stroke="#000" stroke-width="1.2" />
<circle cx="857.80" cy="348.30" r="110.50" fill="none" stroke="#000" stroke-width="1.5" />
<circle cx="857.80" cy="348.30" r="107.20" fill="none" stroke="#000" stroke-width="2.0" />
<circle cx="857.80" cy="348.30" r="118.00" fill="none" stroke="#333" stroke-width="0.7" stroke-dasharray="14 3 2 3"/>
<rect x="720.80" y="341.60" width="4.80" height="13.40" rx="1" fill="#fff" stroke="#000" stroke-width="1.5" />
<rect x="990.00" y="341.60" width="4.80" height="13.40" rx="1" fill="#fff" stroke="#000" stroke-width="1.5" />
<path d="M849.9,479.5 V483.2 Q849.9,485.7 852.6,485.7 H862.8 Q865.4,485.7 865.4,483.2 V479.5" fill="#fff" stroke="#000" stroke-width="1.7" />
<g transform="translate(739.80,348.30) rotate(0.00)"><path d="M-14,-15.8 L9,-13.3 A16.7,16.7 0 0 1 9,13.3 L-14,15.8 Z" fill="#fff" stroke="#000" stroke-width="1.9"/><circle r="4.9" fill="#fff" stroke="#000" stroke-width="5.2"/><circle r="4.1" fill="none" stroke="#666" stroke-width="0.5"/><circle r="0.8" fill="#000"/></g>
<g transform="translate(975.80,348.30) rotate(180.00)"><path d="M-14,-15.8 L9,-13.3 A16.7,16.7 0 0 1 9,13.3 L-14,15.8 Z" fill="#fff" stroke="#000" stroke-width="1.9"/><circle r="4.9" fill="#fff" stroke="#000" stroke-width="5.2"/><circle r="4.1" fill="none" stroke="#666" stroke-width="0.5"/><circle r="0.8" fill="#000"/></g>
<g transform="translate(857.80,466.30) rotate(-90.00)"><path d="M-14,-15.8 L9,-13.3 A16.7,16.7 0 0 1 9,13.3 L-14,15.8 Z" fill="#fff" stroke="#000" stroke-width="1.9"/><circle r="4.9" fill="#fff" stroke="#000" stroke-width="5.2"/><circle r="4.1" fill="none" stroke="#666" stroke-width="0.5"/><circle r="0.8" fill="#000"/></g>
<path d="M801.20,229.72 A131.4,131.4 0 1 0 914.40,229.72" fill="none" stroke="#000" stroke-width="4.0" />
<path d="M846.2,220.2 H869.4 L871.8,239.5 Q866,244.8 857.8,245.2 Q849.6,244.8 843.6,239.5 Z" fill="#fff" stroke="#000" stroke-width="1.6" />
<g transform="translate(857.80,230.20)"><circle r="4.9" fill="#fff" stroke="#000" stroke-width="5.2"/><circle r="4.1" fill="none" stroke="#666" stroke-width="0.5"/><circle r="0.8" fill="#000"/></g>
<circle cx="857.80" cy="348.30" r="73.50" fill="none" stroke="#000" stroke-width="1.9" />
<circle cx="857.80" cy="348.30" r="67.00" fill="none" stroke="#000" stroke-width="1.9" />
<circle cx="857.80" cy="348.30" r="28.80" fill="none" stroke="#000" stroke-width="1.8" />
<path d="M884.16,327.31 L894.68,316.80 A48.5,48.5 0 0 1 894.68,379.80 L884.16,369.29 A33.7,33.7 0 0 0 884.16,327.31 Z" fill="none" stroke="#000" stroke-width="1.9" />
<path d="M892.34,319.14 A45.2,45.2 0 0 1 892.34,377.46" fill="none" stroke="#000" stroke-width="1.8" />
<path d="M836.81,321.94 L826.30,311.42 A48.5,48.5 0 0 1 889.30,311.42 L878.79,321.94 A33.7,33.7 0 0 0 836.81,321.94 Z" fill="none" stroke="#000" stroke-width="1.9" />
<path d="M828.64,313.76 A45.2,45.2 0 0 1 886.96,313.76" fill="none" stroke="#000" stroke-width="1.8" />
<path d="M831.44,369.29 L820.92,379.80 A48.5,48.5 0 0 1 820.92,316.80 L831.44,327.31 A33.7,33.7 0 0 0 831.44,369.29 Z" fill="none" stroke="#000" stroke-width="1.9" />
<path d="M823.26,377.46 A45.2,45.2 0 0 1 823.26,319.14" fill="none" stroke="#000" stroke-width="1.8" />
<path d="M878.79,374.66 L889.30,385.18 A48.5,48.5 0 0 1 826.30,385.18 L836.81,374.66 A33.7,33.7 0 0 0 878.79,374.66 Z" fill="none" stroke="#000" stroke-width="1.9" />
<path d="M886.96,382.84 A45.2,45.2 0 0 1 828.64,382.84" fill="none" stroke="#000" stroke-width="1.8" />
<rect x="851.80" y="324.60" width="12.00" height="6.40" rx="0" fill="#fff" stroke="#000" stroke-width="2.7" />
<circle cx="857.80" cy="348.30" r="19.30" fill="#fff" stroke="#000" stroke-width="3.6" />
<line x1="854.00" y1="327.60" x2="861.60" y2="327.60" stroke="#000" stroke-width="0.9" stroke-dasharray="3 1.4"/>
<circle cx="796.00" cy="286.50" r="4.60" fill="#fff" stroke="#000" stroke-width="2.0" />
<circle cx="796.00" cy="286.50" r="0.70" fill="#000" stroke="#000" stroke-width="0.1" />
<line x1="788.00" y1="278.50" x2="804.00" y2="294.50" stroke="#000" stroke-width="0.8" />
<line x1="788.00" y1="294.50" x2="804.00" y2="278.50" stroke="#000" stroke-width="0.8" />
<circle cx="796.00" cy="410.10" r="4.60" fill="#fff" stroke="#000" stroke-width="2.0" />
<circle cx="796.00" cy="410.10" r="0.70" fill="#000" stroke="#000" stroke-width="0.1" />
<line x1="788.00" y1="402.10" x2="804.00" y2="418.10" stroke="#000" stroke-width="0.8" />
<line x1="788.00" y1="418.10" x2="804.00" y2="402.10" stroke="#000" stroke-width="0.8" />
<circle cx="919.60" cy="286.50" r="4.60" fill="#fff" stroke="#000" stroke-width="2.0" />
<circle cx="919.60" cy="286.50" r="0.70" fill="#000" stroke="#000" stroke-width="0.1" />
<line x1="911.60" y1="278.50" x2="927.60" y2="294.50" stroke="#000" stroke-width="0.8" />
<line x1="911.60" y1="294.50" x2="927.60" y2="278.50" stroke="#000" stroke-width="0.8" />
<circle cx="919.60" cy="410.10" r="4.60" fill="#fff" stroke="#000" stroke-width="2.0" />
<circle cx="919.60" cy="410.10" r="0.70" fill="#000" stroke="#000" stroke-width="0.1" />
<line x1="911.60" y1="402.10" x2="927.60" y2="418.10" stroke="#000" stroke-width="0.8" />
<line x1="911.60" y1="418.10" x2="927.60" y2="402.10" stroke="#000" stroke-width="0.8" />
<line x1="717.00" y1="348.30" x2="1001.00" y2="348.30" stroke="#111" stroke-width="0.9" stroke-dasharray="30 3 3 3"/>
<line x1="857.80" y1="134.00" x2="857.80" y2="491.00" stroke="#111" stroke-width="0.9" stroke-dasharray="30 3 3 3"/>
<line x1="904.00" y1="121.70" x2="1007.50" y2="121.70" stroke="#3c3c3c" stroke-width="1.1" />
<line x1="1002.20" y1="121.70" x2="1002.20" y2="348.30" stroke="#3c3c3c" stroke-width="1.1" />
<polygon points="1002.20,121.70 1003.95,131.70 1000.45,131.70" fill="#111"/>
<polygon points="1002.20,348.30 1000.45,338.30 1003.95,338.30" fill="#111"/>
<g transform="translate(997.80,250.00) rotate(-90.00)" font-family="Liberation Serif" font-size="15.66" fill="#4d4f55" text-anchor="middle"><text transform="translate(3.34,0) scale(0.64,1)">(</text><text transform="translate(10.02,0) scale(0.64,1)">1</text><text transform="translate(16.70,0) scale(0.64,1)">6</text><text transform="translate(23.38,0) scale(0.64,1)">5</text><text transform="translate(30.06,0) scale(0.64,1)">)</text></g>
<line x1="687.75" y1="418.04" x2="955.69" y2="308.15" stroke="#3c3c3c" stroke-width="1.1" />
<polygon points="955.69,308.15 947.10,313.57 945.77,310.33" fill="#111"/>
<polygon points="759.91,388.45 768.50,383.03 769.83,386.27" fill="#111"/>
<g transform="translate(688.07,414.88) rotate(-22.30)" font-family="Liberation Serif" font-size="15.12" fill="#4d4f55" text-anchor="middle"><text transform="translate(3.75,0) scale(0.64,1)">ϕ</text><text transform="translate(11.25,0) scale(0.64,1)">1</text><text transform="translate(18.75,0) scale(0.64,1)">6</text><text transform="translate(26.25,0) scale(0.64,1)">0</text></g>
<line x1="713.04" y1="259.94" x2="932.06" y2="393.63" stroke="#3c3c3c" stroke-width="1.1" />
<polygon points="783.54,302.97 793.44,306.91 791.57,309.98" fill="#111"/>
<polygon points="932.06,393.63 922.16,389.69 924.03,386.62" fill="#111"/>
<g transform="translate(717.48,259.37) rotate(31.40)" font-family="Liberation Serif" font-size="15.12" fill="#4d4f55" text-anchor="middle"><text transform="translate(3.75,0) scale(0.64,1)">ϕ</text><text transform="translate(11.25,0) scale(0.64,1)">1</text><text transform="translate(18.75,0) scale(0.64,1)">3</text><text transform="translate(26.25,0) scale(0.64,1)">0</text></g>
<path d="M786.12,298.29 A87.4,87.4 0 0 0 776.71,315.70" fill="none" stroke="#222" stroke-width="0.8" stroke-dasharray="10 2 2 2"/>
<path d="M932.06,393.63 A87.0,87.0 0 0 0 938.80,380.04" fill="none" stroke="#222" stroke-width="0.8" />
<line x1="812.30" y1="446.00" x2="848.80" y2="446.00" stroke="#3c3c3c" stroke-width="1.1" />
<line x1="812.30" y1="446.00" x2="786.93" y2="387.88" stroke="#3c3c3c" stroke-width="1.1" />
<polygon points="797.51,413.80 801.83,420.68 799.24,421.74" fill="#111"/>
<polygon points="794.49,406.40 790.17,399.52 792.76,398.46" fill="#111"/>
<g transform="translate(822.20,441.20)" font-family="Liberation Serif" font-size="15.12" fill="#4d4f55" text-anchor="middle"><text transform="translate(3.38,0) scale(0.64,1)">4</text><text transform="translate(10.12,0) scale(0.64,1)">-</text><text transform="translate(16.88,0) scale(0.3968,1)">M</text><text transform="translate(23.62,0) scale(0.64,1)">8</text></g>
</svg></body></html>
